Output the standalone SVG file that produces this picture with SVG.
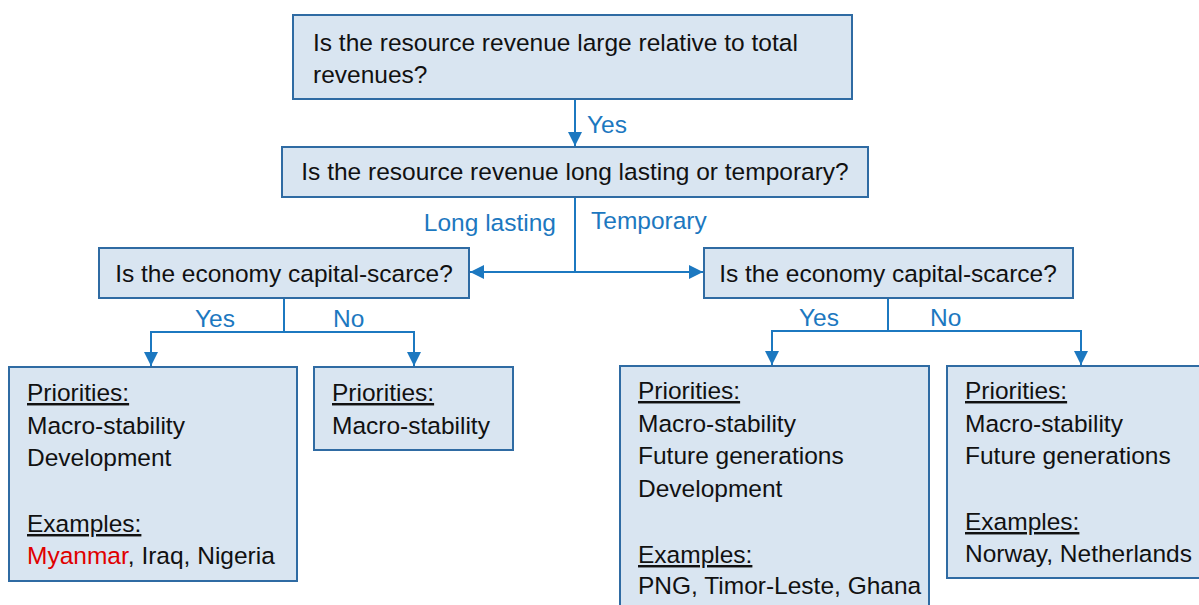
<svg xmlns="http://www.w3.org/2000/svg" width="1199" height="605" viewBox="0 0 1199 605">
<style>
.box{fill:#D9E5F1;stroke:#2F6BA3;stroke-width:2}
.t{font-family:"Liberation Sans",Arial,sans-serif;font-size:24.5px;fill:#111}
.lbl{font-family:"Liberation Sans",Arial,sans-serif;font-size:24.5px;fill:#1C78C0}
.c{fill:none;stroke:#1C78C0;stroke-width:2}
.u{text-decoration:underline}
.red{fill:#E00000}
</style>
<defs>
<marker id="ah" markerUnits="userSpaceOnUse" markerWidth="14" markerHeight="14" refX="14" refY="7" orient="auto">
<path d="M0,0 L14,7 L0,14 z" fill="#1C78C0"/>
</marker>
</defs>
<rect width="1199" height="605" fill="#fff"/>
<g id="connectors">
<path class="c" d="M575,99 V146" marker-end="url(#ah)"/>
<path class="c" d="M575,197 V272 H470" marker-end="url(#ah)"/>
<path class="c" d="M575,272 H703" marker-end="url(#ah)"/>
<path class="c" d="M284,298 V332 H151 V366" marker-end="url(#ah)"/>
<path class="c" d="M284,332 H414 V366" marker-end="url(#ah)"/>
<path class="c" d="M888,298 V331 H772 V365" marker-end="url(#ah)"/>
<path class="c" d="M888,331 H1081 V365" marker-end="url(#ah)"/>
<text class="lbl" x="587" y="133">Yes</text>
<text class="lbl" x="556" y="231" text-anchor="end">Long lasting</text>
<text class="lbl" x="591" y="229">Temporary</text>
<text class="lbl" x="195" y="327">Yes</text>
<text class="lbl" x="333" y="327">No</text>
<text class="lbl" x="799" y="326">Yes</text>
<text class="lbl" x="930" y="326">No</text>
</g>
<g id="q1">
<rect class="box" x="293" y="15" width="559" height="84"/>
<text class="t" x="313" y="51">Is the resource revenue large relative to total</text>
<text class="t" x="313" y="83">revenues?</text>
</g>
<g id="q2">
<rect class="box" x="282" y="147" width="586" height="50"/>
<text class="t" x="575" y="180" text-anchor="middle">Is the resource revenue long lasting or temporary?</text>
</g>
<g id="q3">
<rect class="box" x="99" y="248" width="370" height="50"/>
<text class="t" x="284" y="282" text-anchor="middle">Is the economy capital-scarce?</text>
</g>
<g id="q4">
<rect class="box" x="704" y="248" width="369" height="50"/>
<text class="t" x="888" y="282" text-anchor="middle">Is the economy capital-scarce?</text>
</g>
<g id="r1">
<rect class="box" x="9" y="367" width="288" height="214"/>
<text class="t u" x="27" y="401">Priorities:</text>
<text class="t" x="27" y="434">Macro-stability</text>
<text class="t" x="27" y="466">Development</text>
<text class="t u" x="27" y="532">Examples:</text>
<text class="t" x="27" y="564"><tspan class="red">Myanmar</tspan>, Iraq, Nigeria</text>
</g>
<g id="r2">
<rect class="box" x="314" y="367" width="199" height="83"/>
<text class="t u" x="332" y="401">Priorities:</text>
<text class="t" x="332" y="434">Macro-stability</text>
</g>
<g id="r3">
<rect class="box" x="620" y="366" width="309" height="250"/>
<text class="t u" x="638" y="399">Priorities:</text>
<text class="t" x="638" y="432">Macro-stability</text>
<text class="t" x="638" y="464">Future generations</text>
<text class="t" x="638" y="497">Development</text>
<text class="t u" x="638" y="563">Examples:</text>
<text class="t" x="638" y="594">PNG, Timor-Leste, Ghana</text>
</g>
<g id="r4">
<rect class="box" x="947" y="366" width="262" height="212"/>
<text class="t u" x="965" y="399">Priorities:</text>
<text class="t" x="965" y="432">Macro-stability</text>
<text class="t" x="965" y="464">Future generations</text>
<text class="t u" x="965" y="530">Examples:</text>
<text class="t" x="965" y="562">Norway, Netherlands</text>
</g>
</svg>
